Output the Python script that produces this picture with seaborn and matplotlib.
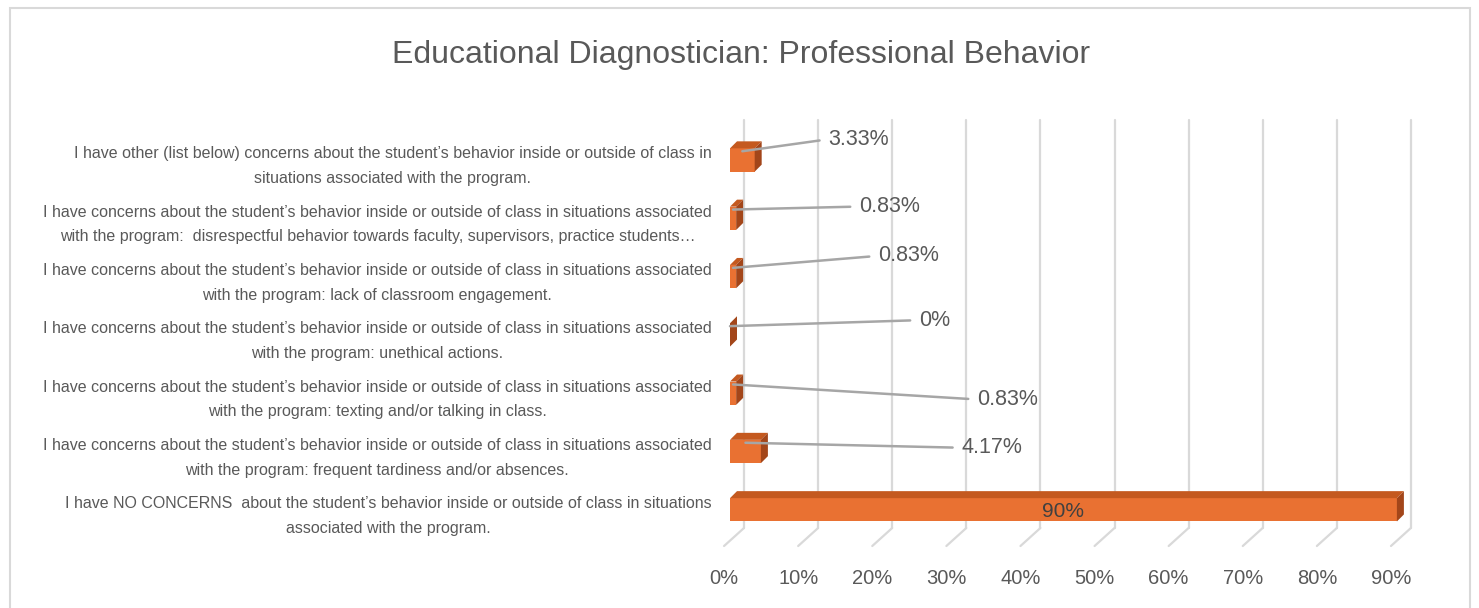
import numpy as np
import pandas as pd
import seaborn as sns
import matplotlib.pyplot as plt
from matplotlib.patches import Polygon, Rectangle

# chart data (top to bottom as shown)
categories = [
    "I have other (list below) concerns about the student\u2019s behavior inside or outside of class in\nsituations associated with the program.",
    "I have concerns about the student\u2019s behavior inside or outside of class in situations associated\nwith the program:  disrespectful behavior towards faculty, supervisors, practice students\u2026",
    "I have concerns about the student\u2019s behavior inside or outside of class in situations associated\nwith the program: lack of classroom engagement.",
    "I have concerns about the student\u2019s behavior inside or outside of class in situations associated\nwith the program: unethical actions.",
    "I have concerns about the student\u2019s behavior inside or outside of class in situations associated\nwith the program: texting and/or talking in class.",
    "I have concerns about the student\u2019s behavior inside or outside of class in situations associated\nwith the program: frequent tardiness and/or absences.",
    "I have NO CONCERNS  about the student\u2019s behavior inside or outside of class in situations\nassociated with the program.",
]
values = [3.33, 0.83, 0.83, 0.0, 0.83, 4.17, 90.0]
value_labels = ["3.33%", "0.83%", "0.83%", "0%", "0.83%", "4.17%", "90%"]
x_ticks = [0, 10, 20, 30, 40, 50, 60, 70, 80, 90]

# callout offsets (pixels from bar top) for the labels
label_offsets = [(86, 12), (126, 3), (145, 12), (189, 6), (244, -15), (216, -5), None]

df = pd.DataFrame({"category": categories, "value": values})

sns.set_style("white")
plt.rcParams["font.family"] = ["Liberation Sans", "DejaVu Sans"]

W, H = 1479, 608
fig = plt.figure(figsize=(W / 100, H / 100), dpi=100)

# axes spans pixels 720..1440 horizontally, 115..560 vertically
ax_l, ax_r, ax_t, ax_b = 720, 1440, 115, 560
ax = fig.add_axes([ax_l / W, 1 - ax_b / H, (ax_r - ax_l) / W, (ax_b - ax_t) / H])
pxx = 7.41    # px per percent
pxy = 58.3    # px per category
zero_px, row0_px = 730, 160

front = "#E97132"
top_c = "#C4591F"
side_c = "#A3461A"
grid_c = "#D9D9D9"
text_c = "#595959"

bar_h = 0.40
sns.barplot(data=df, x="value", y="category", orient="h", color=front,
            width=bar_h, saturation=1, ax=ax, zorder=3, linewidth=0)
ax.set_xlim((ax_l - zero_px) / pxx, (ax_r - zero_px) / pxx)
ax.set_ylim((ax_b - row0_px) / pxy, (ax_t - row0_px) / pxy)

# depth offsets for the 3D look
dx = 7 / pxx
dy = -7 / pxy
gdx = 14 / pxx

# gridlines on the back wall plus floor slants
y_top = (120 - row0_px) / pxy
y_floor = (528 - row0_px) / pxy
y_front = (546 - row0_px) / pxy
for t in x_ticks:
    ax.plot([t + gdx, t + gdx], [y_top, y_floor], color=grid_c, lw=1.6, zorder=1)
    ax.plot([t + gdx, t - 0.8], [y_floor, y_front], color=grid_c, lw=1.6,
            zorder=1, clip_on=False)
    ax.text(t - 0.8, (578 - row0_px) / pxy, f"{t}%", ha="center", va="center",
            fontsize=14.5, color=text_c, clip_on=False)

for p in list(ax.patches):
    x0, y0 = p.get_x(), p.get_y()
    x1, y1 = x0 + p.get_width(), y0 + p.get_height()
    ax.add_patch(Polygon([(x0, y0), (x1, y0), (x1 + dx, y0 + dy), (x0 + dx, y0 + dy)],
                         closed=True, facecolor=top_c, edgecolor="none", zorder=3))
    ax.add_patch(Polygon([(x1, y0), (x1 + dx, y0 + dy), (x1 + dx, y1 + dy), (x1, y1)],
                         closed=True, facecolor=side_c, edgecolor="none", zorder=3))

# data labels
for i, (v, lab, off) in enumerate(zip(values, value_labels, label_offsets)):
    if off is None:
        ax.text(v / 2, i + 0.03, lab, ha="center", va="center", fontsize=15,
                color="#404040", zorder=5)
        continue
    ax.annotate(lab, xy=(v / 2, i - bar_h / 2 + 0.05), xytext=off,
                textcoords="offset pixels", ha="left", va="center",
                fontsize=15.5, color=text_c, zorder=5,
                arrowprops=dict(arrowstyle="-", color="#A6A6A6", lw=1.8,
                                shrinkA=4, shrinkB=0, relpos=(0, 0.5)))

ax.set_xlabel("")
ax.set_ylabel("")
ax.set_xticks([])
ax.tick_params(axis="y", length=0, pad=6, labelsize=11.5, labelcolor=text_c)
for lbl in ax.get_yticklabels():
    lbl.set_multialignment("center")
    lbl.set_linespacing(1.8)
sns.despine(ax=ax, left=True, bottom=True)

fig.text(741 / W, 1 - 55 / H, "Educational Diagnostician: Professional Behavior",
         ha="center", va="center", fontsize=23, color=text_c)

fig.patches.append(Rectangle((10 / W, -0.05), 1460 / W, 1.05 - 8 / H,
                             transform=fig.transFigure, fill=False,
                             edgecolor=grid_c, lw=1.5, zorder=0))

fig.savefig("out.png", dpi=100, facecolor="white")
